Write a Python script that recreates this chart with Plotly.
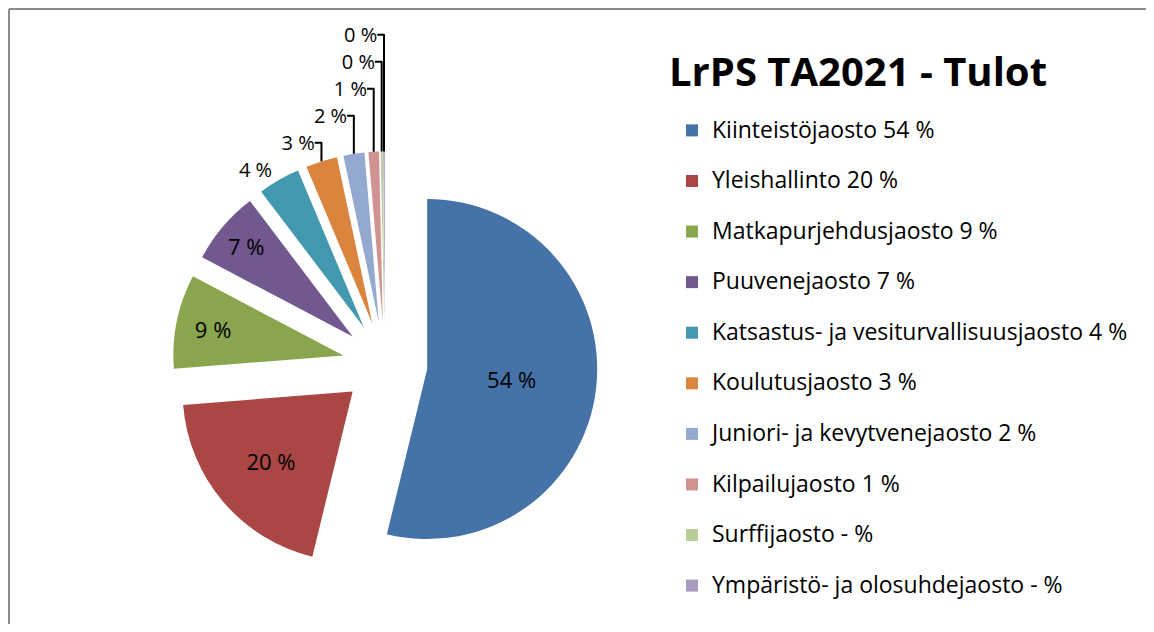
import plotly.graph_objects as go

labels = [
    "Kiinteistöjaosto 54 %",
    "Yleishallinto 20 %",
    "Matkapurjehdusjaosto 9 %",
    "Puuvenejaosto 7 %",
    "Katsastus- ja vesiturvallisuusjaosto 4 %",
    "Koulutusjaosto 3 %",
    "Juniori- ja kevytvenejaosto 2 %",
    "Kilpailujaosto 1 %",
    "Surffijaosto - %",
    "Ympäristö- ja olosuhdejaosto - %",
]
values = [54.0, 20.0, 9.0, 7.0, 4.0, 3.0, 2.0, 1.0, 0.2, 0.15]
colors = ["#4572A7", "#AA4643", "#89A54E", "#71588F", "#4198AF",
          "#DB843D", "#93A9CF", "#D19392", "#B9CD96", "#A99BBD"]
title = "LrPS TA2021 - Tulot"

# figure size chosen so the page (with its 8px body margin) does not overflow
W, H = 1138, 616
FONT = "'Open Sans', Lato, sans-serif"

# pie geometry (pixels, figure coordinates)
cx, cy, r, pull = 377, 356, 170, 0.25
half = r * (1 + pull)
dom_x = [(cx - half) / W, (cx + half) / W]
dom_y = [1 - (cy + half) / H, 1 - (cy - half) / H]

legend_labels = ['<span style="font-size:23px">' + l + "</span><br> " for l in labels]
positions = ["inside"] * 4 + ["outside"] * 6

fig = go.Figure(go.Pie(
    labels=legend_labels,
    values=values,
    sort=False,
    direction="clockwise",
    rotation=0,
    pull=[pull] * len(values),
    marker=dict(colors=colors, line=dict(width=0)),
    texttemplate="%{value:.0f} %",
    textposition=positions,
    insidetextorientation="horizontal",
    insidetextfont=dict(family=FONT, size=22, color="black"),
    outsidetextfont=dict(family=FONT, size=20, color="black"),
    domain=dict(x=dom_x, y=dom_y),
    hoverinfo="percent",
))

border = dict(color="#8c8c8c", width=2)
fig.update_layout(
    width=W, height=H,
    margin=dict(l=0, r=0, t=0, b=0, autoexpand=False),
    paper_bgcolor="white",
    plot_bgcolor="white",
    font=dict(family=FONT, color="black"),
    title=dict(text="<b>" + title + "</b>", x=850 / W, xanchor="center",
               y=1 - 64 / H, yanchor="middle",
               font=dict(family=FONT, size=40, color="black")),
    legend=dict(x=664 / W, xanchor="left", y=1 - 104 / H, yanchor="top",
                valign="top", font=dict(family=FONT, size=18.3, color="black"),
                bgcolor="rgba(0,0,0,0)"),
    shapes=[
        dict(type="line", xref="paper", yref="paper",
             x0=1 / W, x1=1.0, y0=1 - 1 / H, y1=1 - 1 / H, line=border),
        dict(type="line", xref="paper", yref="paper",
             x0=1 / W, x1=1 / W, y0=0, y1=1 - 1 / H, line=border),
    ],
)

fig.write_html("out.html")
